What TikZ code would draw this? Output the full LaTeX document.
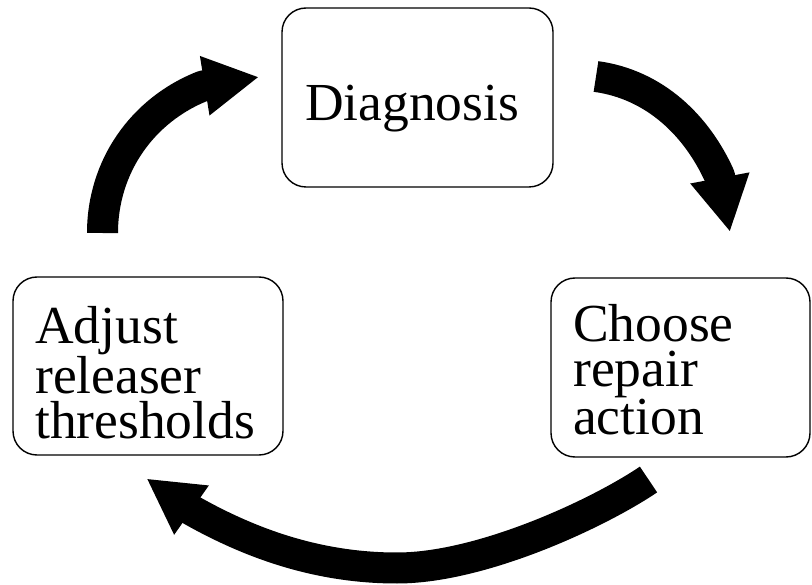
\documentclass[tikz,border=0pt]{standalone}
\usepackage{fontspec}
\setmainfont{Liberation Serif}
\usetikzlibrary{arrows.meta}
\begin{document}
\begin{tikzpicture}[x=1pt,y=-1pt,
  stepbox/.style={draw, line width=1.4pt, rounded corners=24pt, inner sep=0pt},
  lbl/.style={inner sep=0pt, anchor=base west, font=\fontsize{53.5pt}{44.5pt}\selectfont},
  cyclearrow/.style={line width=31pt, line join=round,
    -{Triangle[length=55pt,width=56pt]}}]
\useasboundingbox (0,0) rectangle (812,585);

% the three steps of the cycle
\node[stepbox, minimum width=271pt, minimum height=179pt] (diag)   at (417.5,97.5) {};
\node[stepbox, minimum width=259pt, minimum height=179pt] (choose) at (680.5,367.5) {};
\node[stepbox, minimum width=270pt, minimum height=178pt] (adjust) at (148,366) {};

\node[lbl] (diagtxt) at (305,121) {Diagnosis};
\node[lbl, text width=220pt, align=left] (choosetxt) at (573,342) {Choose\\repair\\action};
\node[lbl, text width=230pt, align=left] (adjusttxt) at (35,344) {Adjust\\releaser\\thresholds};

% end points of the curved arrows
\coordinate (a1tail) at (102.5,233);
\coordinate (a1base) at (203,86);
\coordinate (a1tip)  at (259,77);
\coordinate (a2tail) at (596,76.5);
\coordinate (a2base) at (719.5,176);
\coordinate (a2tip)  at (730,232);
\coordinate (a3tail) at (648.5,479.5);
\coordinate (a3mid)  at (397,568);
\coordinate (a3base) at (192,510.5);
\coordinate (a3tip)  at (146.5,478.5);

% thick curved arrows running clockwise
\draw[cyclearrow] (a1tail) .. controls (102.5,167) and (142,110) .. (a1base) -- (a1tip);
\draw[cyclearrow] (a2tail) .. controls (655,84.5) and (697,126) .. (a2base) -- (a2tip);
\draw[cyclearrow] (a3tail) .. controls (599,513) and (482,568) .. (a3mid)
  .. controls (322,568) and (255,546) .. (a3base) -- (a3tip);
\end{tikzpicture}
\end{document}
